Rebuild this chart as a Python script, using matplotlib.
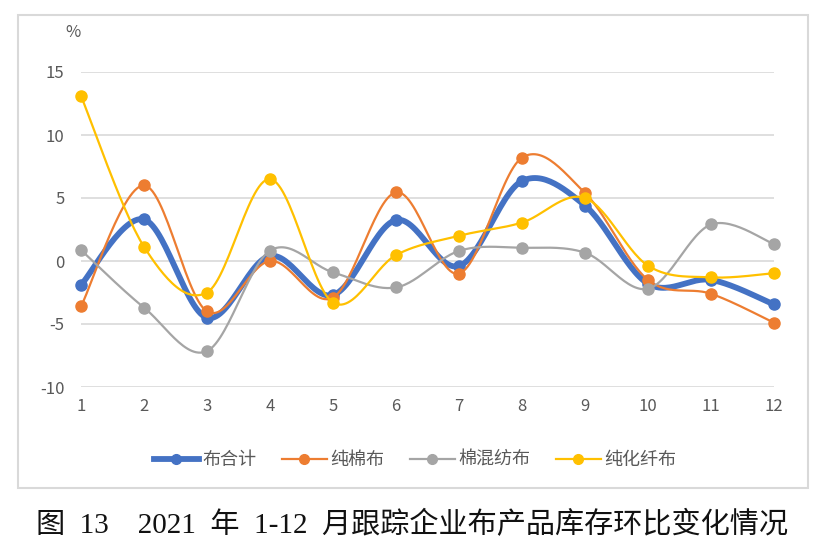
import numpy as np
import matplotlib.pyplot as plt
from matplotlib.patches import Rectangle

months = np.arange(1, 13)
month_labels = [str(m) for m in months]
series_names = ['布合计', '纯棉布', '棉混纺布', '纯化纤布']
total = [-1.9, 3.3, -4.5, 0.4, -2.7, 3.25, -0.4, 6.35, 4.4, -1.8, -1.5, -3.45]
cotton = [-3.6, 6.0, -4.0, 0.0, -2.9, 5.45, -1.0, 8.2, 5.4, -1.5, -2.6, -4.9]
blend = [0.87, -3.7, -7.15, 0.82, -0.9, -2.1, 0.8, 1.05, 0.66, -2.2, 2.9, 1.35]
synthetic = [13.1, 1.13, -2.5, 6.5, -3.3, 0.47, 2.0, 3.05, 5.0, -0.37, -1.3, -0.97]

colors = ['#4472C4', '#ED7D31', '#A5A5A5', '#FFC000']
widths = [4.2, 1.6, 1.6, 1.6]

plt.rcParams['font.family'] = ['Noto Sans CJK SC', 'DejaVu Sans']
plt.rcParams['axes.unicode_minus'] = False


def smooth(x, y, n=30):
    # Catmull-Rom style curve, close to Excel's smoothed line
    x = np.asarray(x, float)
    y = np.asarray(y, float)
    px = np.concatenate([[x[0]], x, [x[-1]]])
    py = np.concatenate([[y[0]], y, [y[-1]]])
    xs, ys = [], []
    t = np.linspace(0, 1, n)
    for i in range(1, len(px) - 2):
        p0, p1, p2, p3 = [np.array([px[j], py[j]]) for j in (i - 1, i, i + 1, i + 2)]
        c1 = p1 + (p2 - p0) / 6
        c2 = p2 - (p3 - p1) / 6
        pts = ((1 - t) ** 3)[:, None] * p1 + (3 * (1 - t) ** 2 * t)[:, None] * c1 \
            + (3 * (1 - t) * t ** 2)[:, None] * c2 + (t ** 3)[:, None] * p2
        xs.extend(pts[:, 0])
        ys.extend(pts[:, 1])
    return np.array(xs), np.array(ys)


fig = plt.figure(figsize=(8.21, 5.52), dpi=100)
fig.patches.append(Rectangle((18 / 821, 1 - 488 / 552), 790 / 821, 473 / 552,
                             transform=fig.transFigure, fill=False,
                             edgecolor='#D9D9D9', linewidth=1.5))

ax = fig.add_axes([81 / 821, 1 - 387 / 552, 693 / 821, 315 / 552])

handles = []
for name, vals, c, lw in zip(series_names, [total, cotton, blend, synthetic], colors, widths):
    sx, sy = smooth(months, vals)
    ax.plot(sx, sy, color=c, linewidth=lw, clip_on=False, solid_capstyle='round')
    ax.plot(months, vals, 'o', color=c, markersize=8, clip_on=False)
    h, = ax.plot([], [], '-o', color=c, linewidth=lw, markersize=7, label=name)
    handles.append(h)

ax.set_xlim(1, 12)
ax.set_ylim(-10, 15)
ax.set_yticks([-10, -5, 0, 5, 10, 15])
ax.set_xticks(months)
ax.set_xticklabels(month_labels)
ax.grid(axis='y', color='#D9D9D9', linewidth=1.2)
ax.set_axisbelow(True)
for s in ax.spines.values():
    s.set_visible(False)
ax.tick_params(length=0, labelsize=12, colors='#595959')
ax.tick_params(axis='y', pad=12)
ax.tick_params(axis='x', pad=8)
ax.text(-0.012, 1.125, '%', transform=ax.transAxes, fontsize=12, color='#595959',
        ha='center', va='center')

fig.legend(handles=handles, loc='center', bbox_to_anchor=(415 / 821, 1 - 460 / 552),
           ncol=4, frameon=False, fontsize=13, handlelength=2.5, columnspacing=1.4,
           handletextpad=0.2, labelcolor='#595959')

fig.text(412 / 821, 1 - 525 / 552, '图  13    2021  年  1-12  月跟踪企业布产品库存环比变化情况',
         fontsize=21, ha='center', va='center', color='#111111',
         family=['Liberation Serif', 'Noto Sans CJK SC'])

fig.savefig('out.png', dpi=100)
